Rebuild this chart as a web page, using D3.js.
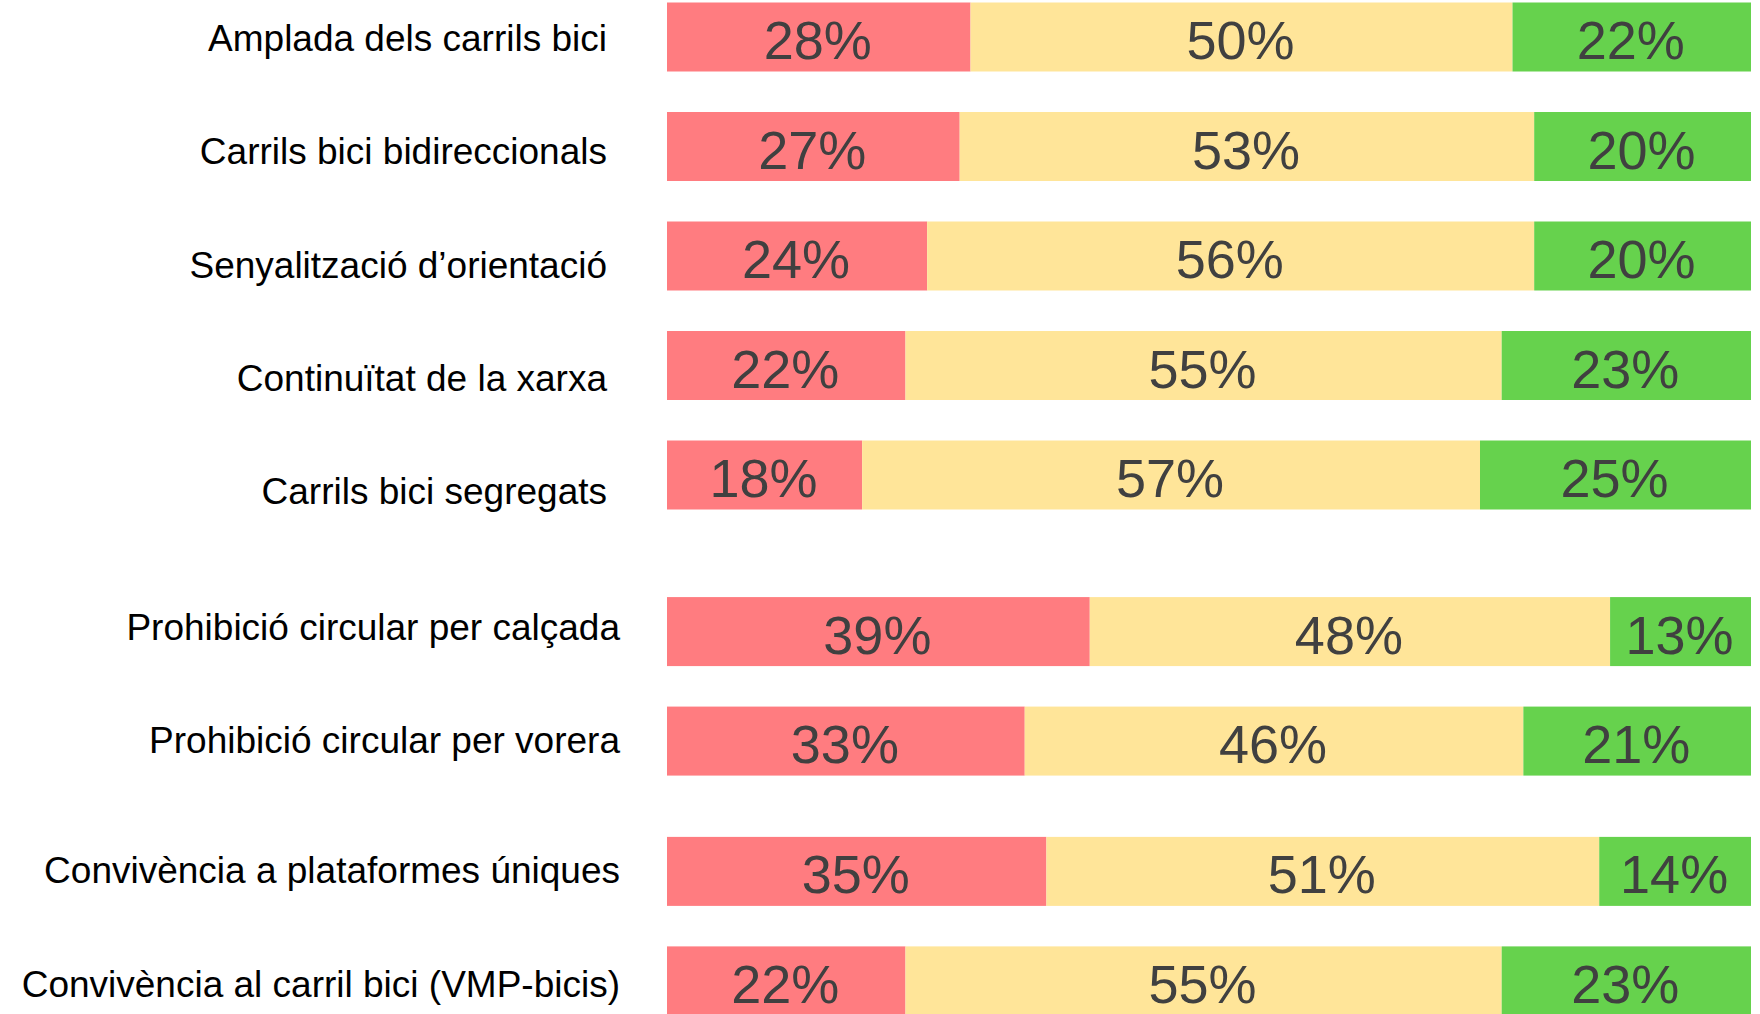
<!DOCTYPE html>
<html>
<head>
<meta charset="utf-8">
<script src="https://cdn.jsdelivr.net/npm/d3@7/dist/d3.min.js"></script>
<style>
  html, body { margin: 0; padding: 0; background: #ffffff; overflow: hidden; }
  svg { display: block; }
</style>
</head>
<body>
<svg id="chart" width="1760" height="1014"></svg>
<script>
// ---- data ----
const categories = [
  "Amplada dels carrils bici",
  "Carrils bici bidireccionals",
  "Senyalització d\u2019orientació",
  "Continuïtat de la xarxa",
  "Carrils bici segregats",
  "Prohibició circular per calçada",
  "Prohibició circular per vorera",
  "Convivència a plataformes úniques",
  "Convivència al carril bici (VMP-bicis)"
];
const groupOf = [0, 0, 0, 0, 0, 1, 1, 2, 2];
const negative = [28, 27, 24, 22, 18, 39, 33, 35, 22];
const neutral  = [50, 53, 56, 55, 57, 48, 46, 51, 55];
const positive = [22, 20, 20, 23, 25, 13, 21, 14, 23];
const seriesKeys = ["negative", "neutral", "positive"];
const seriesColors = ["#FF7C80", "#FFE599", "#66D24D"];

// ---- layout ----
const W = 1760, H = 1014;
const barLeft = 667, barRight = 1751;
const barHeight = 69;
const barGroupGap = [0, 0.43, 0.62];
const labelGroupGap = [0, 0.20, 0.35];
const labelRightByGroup = [607, 620, 620];

const rows = categories.map((c, i) => ({
  cat: c, i, g: groupOf[i],
  negative: negative[i], neutral: neutral[i], positive: positive[i]
}));

const x = d3.scaleLinear().domain([0, 100]).range([barLeft, barRight]);
const yBar = d3.scaleLinear().domain([0, 1]).range([37, 146.5]);        // bar centre per slot
const yLabel = d3.scaleLinear().domain([0, 1]).range([37.5, 150.75]);   // label centre per slot

const stack = d3.stack().keys(seriesKeys);
const stacked = stack(rows);

const svg = d3.select("#chart");
const fontFamily = "Arial, 'Liberation Sans', Helvetica, sans-serif";

const layers = svg.selectAll("g.layer")
  .data(stacked)
  .join("g")
  .attr("class", "layer")
  .attr("fill", (d, k) => seriesColors[k]);

layers.selectAll("rect")
  .data(d => d)
  .join("rect")
  .attr("x", d => x(d[0]))
  .attr("width", d => x(d[1]) - x(d[0]))
  .attr("y", d => yBar(d.data.i + barGroupGap[d.data.g]) - barHeight / 2)
  .attr("height", barHeight);

// value labels
const valueLayer = svg.append("g");
stacked.forEach(layer => {
  valueLayer.selectAll(null)
    .data(layer)
    .join("text")
    .attr("x", d => (x(d[0]) + x(d[1])) / 2 - 1)
    .attr("y", d => yBar(d.data.i + barGroupGap[d.data.g]) + 22)
    .attr("text-anchor", "middle")
    .attr("font-family", fontFamily)
    .attr("font-size", 54)
    .attr("fill", "#404040")
    .text(d => (d[1] - d[0]) + "%");
});

// category labels
svg.append("g")
  .selectAll("text")
  .data(rows)
  .join("text")
  .attr("x", d => labelRightByGroup[d.g])
  .attr("y", d => yLabel(d.i + labelGroupGap[d.g]) + 13.5)
  .attr("text-anchor", "end")
  .attr("font-family", fontFamily)
  .attr("font-size", 37)
  .attr("fill", "#000000")
  .text(d => d.cat);
</script>
</body>
</html>
